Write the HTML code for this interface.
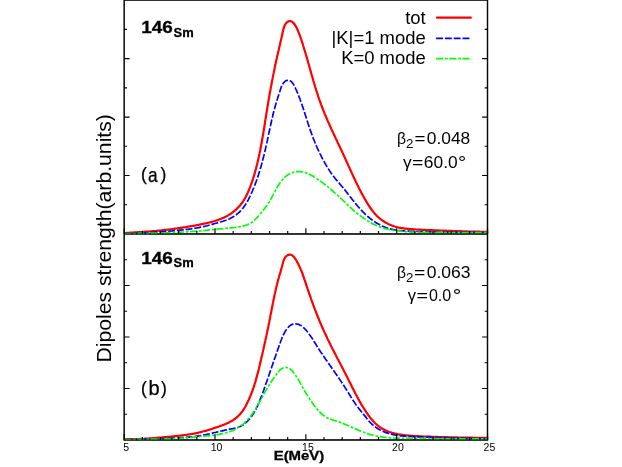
<!DOCTYPE html>
<html><head><meta charset="utf-8"><title>plot</title>
<style>
html,body{margin:0;padding:0;background:#fff;}
body{width:622px;height:467px;overflow:hidden;}
svg{display:block;will-change:transform;}
text{font-family:"Liberation Sans",sans-serif;fill:#000;}
</style></head>
<body>
<svg width="622" height="467" viewBox="0 0 622 467">
<rect x="0" y="0" width="622" height="467" fill="#ffffff"/>
<!-- frame + ticks -->
<g fill="none" stroke="#151515" stroke-width="1.35">
<path d="M124.2,0.15 H487.5 V439.95 H124.2 Z M124.2,233.95 H487.5"/>
</g>
<!-- curves -->
<g fill="none" stroke-linejoin="round">
<path d="M124.2,233.1 L125.4,233.0 L126.7,232.9 L127.9,232.8 L129.2,232.8 L130.4,232.7 L131.6,232.6 L132.9,232.5 L134.1,232.4 L135.4,232.4 L136.6,232.3 L137.9,232.2 L139.1,232.1 L140.3,232.1 L141.6,232.0 L142.8,231.9 L144.0,231.8 L145.3,231.7 L146.5,231.7 L147.8,231.6 L149.0,231.5 L150.2,231.4 L151.5,231.3 L152.7,231.2 L154.0,231.1 L155.2,231.0 L156.4,230.9 L157.7,230.7 L158.9,230.6 L160.2,230.5 L161.4,230.4 L162.6,230.2 L163.9,230.1 L165.1,229.9 L166.3,229.8 L167.6,229.7 L168.8,229.5 L170.1,229.3 L171.3,229.2 L172.5,229.0 L173.8,228.9 L175.0,228.7 L176.2,228.5 L177.4,228.4 L178.7,228.2 L179.9,228.0 L181.1,227.8 L182.4,227.6 L183.6,227.4 L184.8,227.3 L186.0,227.1 L187.3,226.9 L188.5,226.7 L189.7,226.4 L190.9,226.2 L192.2,226.0 L193.4,225.8 L194.6,225.6 L195.8,225.3 L197.0,225.1 L198.3,224.9 L199.5,224.6 L200.7,224.4 L201.9,224.1 L203.1,223.9 L204.4,223.6 L205.6,223.3 L206.8,223.1 L208.0,222.8 L209.2,222.5 L210.4,222.2 L211.7,221.9 L212.9,221.5 L214.1,221.2 L215.2,220.8 L216.4,220.5 L217.6,220.1 L218.8,219.7 L219.9,219.2 L221.1,218.8 L222.2,218.3 L223.4,217.8 L224.5,217.3 L225.6,216.7 L226.7,216.2 L227.8,215.6 L228.8,214.9 L229.9,214.3 L230.9,213.6 L231.9,212.9 L232.9,212.1 L233.9,211.4 L234.9,210.6 L235.8,209.7 L236.7,208.9 L237.6,208.0 L238.5,207.1 L239.3,206.2 L240.2,205.2 L240.9,204.3 L241.7,203.3 L242.4,202.3 L243.1,201.3 L243.8,200.2 L244.4,199.2 L245.1,198.1 L245.7,197.0 L246.2,195.9 L246.8,194.8 L247.3,193.7 L247.8,192.6 L248.3,191.4 L248.8,190.3 L249.3,189.1 L249.8,187.9 L250.2,186.8 L250.6,185.6 L251.1,184.4 L251.5,183.2 L251.9,182.1 L252.3,180.9 L252.7,179.7 L253.1,178.5 L253.4,177.3 L253.8,176.1 L254.2,174.9 L254.5,173.8 L254.9,172.6 L255.2,171.4 L255.5,170.2 L255.9,169.0 L256.2,167.8 L256.5,166.6 L256.8,165.4 L257.1,164.2 L257.4,163.0 L257.7,161.8 L258.0,160.6 L258.2,159.4 L258.5,158.2 L258.8,157.0 L259.0,155.7 L259.3,154.5 L259.6,153.3 L259.8,152.1 L260.1,150.9 L260.3,149.7 L260.5,148.5 L260.8,147.3 L261.0,146.0 L261.2,144.8 L261.5,143.6 L261.7,142.4 L261.9,141.2 L262.1,139.9 L262.3,138.7 L262.5,137.5 L262.8,136.3 L263.0,135.1 L263.2,133.8 L263.4,132.6 L263.6,131.4 L263.8,130.2 L264.0,128.9 L264.2,127.7 L264.4,126.5 L264.6,125.2 L264.8,124.0 L264.9,122.8 L265.1,121.5 L265.3,120.3 L265.5,119.1 L265.7,117.9 L265.9,116.6 L266.1,115.4 L266.3,114.2 L266.5,112.9 L266.7,111.7 L266.9,110.5 L267.1,109.2 L267.3,108.0 L267.5,106.7 L267.7,105.5 L267.9,104.3 L268.1,103.0 L268.3,101.8 L268.5,100.6 L268.7,99.3 L269.0,98.1 L269.2,96.9 L269.4,95.6 L269.6,94.4 L269.8,93.2 L270.0,91.9 L270.3,90.7 L270.5,89.5 L270.7,88.2 L270.9,87.0 L271.2,85.8 L271.4,84.6 L271.6,83.3 L271.9,82.1 L272.1,80.9 L272.3,79.7 L272.6,78.4 L272.8,77.2 L273.0,76.0 L273.3,74.8 L273.5,73.6 L273.8,72.4 L274.0,71.2 L274.3,69.9 L274.5,68.7 L274.8,67.5 L275.0,66.3 L275.3,65.1 L275.5,63.9 L275.8,62.7 L276.1,61.6 L276.3,60.4 L276.6,59.2 L276.9,58.0 L277.1,56.8 L277.4,55.6 L277.7,54.4 L277.9,53.3 L278.2,52.1 L278.5,50.9 L278.8,49.7 L279.0,48.5 L279.3,47.3 L279.6,46.1 L279.9,44.9 L280.1,43.7 L280.4,42.4 L280.7,41.2 L281.0,40.0 L281.3,38.7 L281.6,37.4 L281.8,36.2 L282.1,34.9 L282.4,33.6 L282.7,32.3 L283.0,30.9 L283.3,29.6 L283.6,28.4 L284.0,27.1 L284.5,25.9 L285.0,24.8 L285.6,23.8 L286.4,22.9 L287.2,22.1 L288.2,21.5 L289.3,21.1 L290.4,21.1 L291.6,21.5 L292.6,22.2 L293.5,23.1 L294.3,24.0 L295.1,25.1 L295.8,26.3 L296.4,27.4 L297.0,28.6 L297.5,29.8 L298.1,31.0 L298.5,32.1 L299.0,33.3 L299.4,34.5 L299.9,35.6 L300.3,36.8 L300.7,37.9 L301.1,39.1 L301.5,40.2 L301.8,41.4 L302.2,42.5 L302.6,43.7 L303.0,44.9 L303.3,46.0 L303.7,47.2 L304.0,48.4 L304.4,49.6 L304.8,50.7 L305.1,51.9 L305.5,53.1 L305.8,54.3 L306.2,55.5 L306.5,56.7 L306.9,57.9 L307.2,59.0 L307.5,60.2 L307.9,61.4 L308.2,62.6 L308.6,63.8 L308.9,65.0 L309.2,66.2 L309.6,67.4 L309.9,68.6 L310.2,69.8 L310.6,71.0 L310.9,72.2 L311.3,73.4 L311.6,74.6 L312.0,75.8 L312.3,77.0 L312.6,78.2 L313.0,79.4 L313.3,80.6 L313.7,81.8 L314.0,83.0 L314.4,84.2 L314.8,85.4 L315.1,86.6 L315.5,87.8 L315.9,88.9 L316.2,90.1 L316.6,91.3 L317.0,92.5 L317.4,93.7 L317.8,94.9 L318.1,96.1 L318.5,97.3 L318.9,98.4 L319.3,99.6 L319.8,100.8 L320.2,102.0 L320.6,103.1 L321.0,104.3 L321.5,105.5 L321.9,106.6 L322.3,107.8 L322.8,108.9 L323.2,110.1 L323.7,111.3 L324.2,112.4 L324.6,113.6 L325.1,114.7 L325.6,115.8 L326.1,117.0 L326.6,118.1 L327.1,119.3 L327.5,120.4 L328.0,121.5 L328.5,122.7 L329.1,123.8 L329.6,125.0 L330.1,126.1 L330.6,127.2 L331.1,128.3 L331.6,129.5 L332.1,130.6 L332.7,131.7 L333.2,132.9 L333.7,134.0 L334.2,135.1 L334.8,136.2 L335.3,137.4 L335.8,138.5 L336.4,139.6 L336.9,140.7 L337.4,141.9 L337.9,143.0 L338.5,144.1 L339.0,145.2 L339.5,146.4 L340.1,147.5 L340.6,148.6 L341.1,149.7 L341.7,150.9 L342.2,152.0 L342.7,153.1 L343.2,154.2 L343.7,155.4 L344.3,156.5 L344.8,157.6 L345.3,158.8 L345.8,159.9 L346.3,161.0 L346.8,162.2 L347.4,163.3 L347.9,164.4 L348.4,165.6 L348.9,166.7 L349.4,167.8 L349.9,169.0 L350.4,170.1 L351.0,171.2 L351.5,172.4 L352.0,173.5 L352.5,174.6 L353.0,175.7 L353.6,176.9 L354.1,178.0 L354.6,179.1 L355.2,180.2 L355.7,181.4 L356.2,182.5 L356.8,183.6 L357.3,184.7 L357.9,185.8 L358.4,186.9 L359.0,188.1 L359.5,189.2 L360.1,190.3 L360.7,191.4 L361.3,192.5 L361.8,193.6 L362.4,194.7 L363.0,195.8 L363.6,196.8 L364.2,197.9 L364.8,199.0 L365.5,200.1 L366.1,201.2 L366.7,202.2 L367.4,203.3 L368.0,204.4 L368.7,205.4 L369.4,206.5 L370.1,207.5 L370.8,208.5 L371.5,209.5 L372.2,210.5 L373.0,211.5 L373.8,212.4 L374.6,213.4 L375.4,214.3 L376.3,215.2 L377.1,216.1 L378.0,216.9 L379.0,217.8 L379.9,218.6 L380.9,219.3 L381.9,220.1 L382.9,220.8 L384.0,221.5 L385.0,222.2 L386.1,222.8 L387.2,223.4 L388.3,224.0 L389.4,224.5 L390.6,225.0 L391.7,225.5 L392.9,225.9 L394.0,226.3 L395.2,226.7 L396.4,227.0 L397.6,227.3 L398.8,227.6 L400.1,227.8 L401.3,228.0 L402.5,228.2 L403.7,228.4 L405.0,228.6 L406.2,228.7 L407.4,228.8 L408.7,228.9 L409.9,229.0 L411.2,229.1 L412.4,229.2 L413.6,229.3 L414.9,229.4 L416.1,229.5 L417.4,229.5 L418.6,229.6 L419.9,229.7 L421.1,229.7 L422.3,229.8 L423.6,229.9 L424.8,229.9 L426.1,230.0 L427.3,230.0 L428.5,230.1 L429.8,230.1 L431.0,230.2 L432.3,230.2 L433.5,230.3 L434.8,230.3 L436.0,230.4 L437.2,230.4 L438.5,230.4 L439.7,230.5 L441.0,230.5 L442.2,230.6 L443.5,230.6 L444.7,230.7 L445.9,230.7 L447.2,230.8 L448.4,230.8 L449.7,230.9 L450.9,230.9 L452.2,230.9 L453.4,231.0 L454.6,231.0 L455.9,231.1 L457.1,231.1 L458.4,231.1 L459.6,231.2 L460.9,231.2 L462.1,231.3 L463.3,231.3 L464.6,231.3 L465.8,231.4 L467.1,231.4 L468.3,231.5 L469.6,231.5 L470.8,231.5 L472.0,231.6 L473.3,231.6 L474.5,231.6 L475.8,231.6 L477.0,231.7 L478.3,231.7 L479.5,231.7 L480.7,231.8 L482.0,231.8 L483.2,231.8 L484.5,231.8 L485.7,231.8 L487.0,231.9 L488.2,231.9" stroke="#ff0000" stroke-width="2.2"/>
<path d="M124.2,233.4 L125.3,233.4 L126.3,233.4 L127.4,233.4 L128.4,233.3 L129.5,233.3 L130.5,233.3 L131.6,233.3 L132.6,233.2 L133.7,233.2 L134.7,233.2 L135.8,233.1 L136.8,233.1 L137.9,233.1 L138.9,233.0 L140.0,233.0 L141.0,232.9 L142.1,232.9 L143.2,232.9 L144.2,232.8 L145.3,232.8 L146.3,232.7 L147.4,232.7 L148.4,232.6 L149.5,232.5 L150.5,232.5 L151.6,232.4 L152.6,232.4 L153.7,232.3 L154.7,232.2 L155.8,232.2 L156.8,232.1 L157.9,232.0 L158.9,232.0 L160.0,231.9 L161.0,231.8 L162.1,231.7 L163.1,231.7 L164.2,231.6 L165.2,231.5 L166.3,231.4 L167.3,231.3 L168.4,231.3 L169.4,231.2 L170.5,231.1 L171.5,231.0 L172.6,230.9 L173.6,230.8 L174.7,230.7 L175.7,230.6 L176.8,230.5 L177.8,230.4 L178.9,230.3 L179.9,230.2 L181.0,230.1 L182.0,230.0 L183.1,229.9 L184.1,229.8 L185.2,229.6 L186.2,229.5 L187.2,229.4 L188.3,229.3 L189.3,229.1 L190.4,229.0 L191.4,228.8 L192.5,228.7 L193.5,228.5 L194.5,228.4 L195.6,228.2 L196.6,228.0 L197.7,227.8 L198.7,227.6 L199.7,227.4 L200.7,227.2 L201.8,227.0 L202.8,226.8 L203.8,226.5 L204.9,226.3 L205.9,226.0 L206.9,225.8 L207.9,225.5 L208.9,225.2 L210.0,224.9 L211.0,224.6 L212.0,224.4 L213.0,224.1 L214.0,223.8 L215.0,223.5 L216.0,223.2 L217.1,222.9 L218.1,222.6 L219.1,222.3 L220.1,222.0 L221.1,221.8 L222.1,221.5 L223.1,221.2 L224.1,220.8 L225.1,220.5 L226.1,220.2 L227.1,219.8 L228.1,219.4 L229.0,219.0 L230.0,218.5 L230.9,218.1 L231.9,217.6 L232.8,217.0 L233.7,216.5 L234.6,215.9 L235.4,215.3 L236.3,214.7 L237.1,214.0 L237.9,213.4 L238.7,212.7 L239.5,212.0 L240.3,211.2 L241.0,210.5 L241.7,209.7 L242.4,208.9 L243.0,208.1 L243.6,207.2 L244.3,206.4 L244.9,205.5 L245.4,204.6 L246.0,203.7 L246.5,202.8 L247.1,201.9 L247.6,201.0 L248.1,200.1 L248.6,199.1 L249.1,198.2 L249.5,197.2 L250.0,196.3 L250.4,195.3 L250.9,194.4 L251.3,193.4 L251.8,192.4 L252.2,191.5 L252.6,190.5 L253.0,189.5 L253.4,188.5 L253.8,187.6 L254.2,186.6 L254.6,185.6 L255.0,184.6 L255.4,183.7 L255.7,182.7 L256.1,181.7 L256.4,180.7 L256.8,179.7 L257.1,178.7 L257.5,177.7 L257.8,176.7 L258.1,175.7 L258.5,174.7 L258.8,173.7 L259.1,172.7 L259.4,171.7 L259.7,170.7 L260.0,169.7 L260.3,168.7 L260.6,167.7 L260.9,166.7 L261.2,165.7 L261.5,164.7 L261.8,163.7 L262.0,162.7 L262.3,161.6 L262.6,160.6 L262.8,159.6 L263.1,158.6 L263.4,157.6 L263.6,156.6 L263.9,155.5 L264.1,154.5 L264.4,153.5 L264.6,152.5 L264.9,151.4 L265.1,150.4 L265.3,149.4 L265.6,148.4 L265.8,147.3 L266.0,146.3 L266.3,145.3 L266.5,144.2 L266.7,143.2 L267.0,142.2 L267.2,141.1 L267.4,140.1 L267.6,139.1 L267.8,138.0 L268.1,137.0 L268.3,136.0 L268.5,134.9 L268.7,133.9 L268.9,132.9 L269.2,131.8 L269.4,130.8 L269.6,129.8 L269.8,128.7 L270.1,127.7 L270.3,126.7 L270.5,125.6 L270.7,124.6 L271.0,123.6 L271.2,122.5 L271.4,121.5 L271.6,120.5 L271.9,119.5 L272.1,118.4 L272.4,117.4 L272.6,116.4 L272.8,115.4 L273.1,114.3 L273.3,113.3 L273.6,112.3 L273.9,111.3 L274.1,110.3 L274.4,109.3 L274.7,108.2 L274.9,107.2 L275.2,106.2 L275.5,105.2 L275.8,104.2 L276.1,103.2 L276.4,102.2 L276.7,101.2 L277.0,100.2 L277.3,99.2 L277.6,98.3 L277.9,97.3 L278.2,96.3 L278.6,95.3 L278.9,94.3 L279.2,93.3 L279.5,92.2 L279.9,91.2 L280.2,90.2 L280.5,89.2 L280.9,88.1 L281.2,87.1 L281.6,86.1 L282.1,85.1 L282.6,84.2 L283.2,83.3 L283.9,82.5 L284.6,81.7 L285.5,81.1 L286.4,80.6 L287.4,80.3 L288.4,80.2 L289.4,80.4 L290.3,80.9 L291.2,81.5 L291.9,82.2 L292.6,83.0 L293.2,83.9 L293.8,84.8 L294.3,85.8 L294.8,86.8 L295.3,87.8 L295.7,88.8 L296.2,89.8 L296.6,90.7 L297.0,91.7 L297.4,92.7 L297.9,93.7 L298.2,94.7 L298.6,95.6 L299.0,96.6 L299.4,97.6 L299.8,98.6 L300.1,99.5 L300.5,100.5 L300.8,101.5 L301.2,102.5 L301.5,103.4 L301.9,104.4 L302.2,105.4 L302.5,106.4 L302.9,107.4 L303.2,108.3 L303.5,109.3 L303.8,110.3 L304.2,111.3 L304.5,112.3 L304.8,113.3 L305.1,114.3 L305.4,115.3 L305.8,116.3 L306.1,117.3 L306.4,118.3 L306.7,119.3 L307.1,120.3 L307.4,121.3 L307.7,122.3 L308.0,123.3 L308.4,124.4 L308.7,125.4 L309.0,126.4 L309.4,127.4 L309.7,128.4 L310.1,129.4 L310.4,130.4 L310.7,131.4 L311.1,132.4 L311.5,133.4 L311.8,134.4 L312.2,135.4 L312.5,136.4 L312.9,137.4 L313.3,138.4 L313.7,139.3 L314.1,140.3 L314.5,141.3 L314.9,142.3 L315.3,143.2 L315.7,144.2 L316.1,145.2 L316.5,146.1 L316.9,147.1 L317.3,148.1 L317.8,149.0 L318.2,150.0 L318.7,150.9 L319.1,151.9 L319.6,152.8 L320.0,153.8 L320.5,154.7 L321.0,155.7 L321.4,156.6 L321.9,157.5 L322.4,158.5 L322.9,159.4 L323.4,160.3 L323.9,161.2 L324.4,162.1 L324.9,163.1 L325.4,164.0 L325.9,164.9 L326.5,165.8 L327.0,166.7 L327.6,167.6 L328.1,168.5 L328.7,169.4 L329.3,170.3 L329.8,171.1 L330.4,172.0 L331.0,172.9 L331.6,173.7 L332.2,174.6 L332.9,175.5 L333.5,176.3 L334.1,177.1 L334.8,178.0 L335.4,178.8 L336.1,179.6 L336.8,180.4 L337.5,181.2 L338.2,182.0 L338.9,182.8 L339.5,183.6 L340.2,184.4 L340.9,185.2 L341.6,186.0 L342.3,186.8 L343.0,187.6 L343.6,188.5 L344.3,189.3 L345.0,190.1 L345.6,190.9 L346.3,191.7 L346.9,192.6 L347.6,193.4 L348.2,194.2 L348.9,195.0 L349.5,195.9 L350.1,196.7 L350.8,197.5 L351.4,198.4 L352.1,199.2 L352.7,200.0 L353.4,200.8 L354.0,201.6 L354.7,202.5 L355.3,203.3 L356.0,204.1 L356.7,204.9 L357.3,205.7 L358.0,206.5 L358.7,207.3 L359.4,208.1 L360.1,208.9 L360.8,209.6 L361.5,210.4 L362.2,211.2 L363.0,211.9 L363.7,212.7 L364.5,213.4 L365.2,214.2 L366.0,214.9 L366.8,215.6 L367.6,216.3 L368.4,217.0 L369.2,217.7 L370.0,218.4 L370.8,219.0 L371.7,219.7 L372.5,220.3 L373.4,221.0 L374.3,221.6 L375.2,222.1 L376.1,222.7 L377.0,223.3 L377.9,223.8 L378.8,224.3 L379.7,224.8 L380.6,225.3 L381.6,225.8 L382.5,226.2 L383.5,226.6 L384.5,227.0 L385.4,227.4 L386.4,227.8 L387.4,228.1 L388.4,228.4 L389.4,228.7 L390.4,228.9 L391.4,229.2 L392.4,229.4 L393.5,229.6 L394.5,229.8 L395.5,230.0 L396.6,230.1 L397.6,230.3 L398.7,230.4 L399.7,230.5 L400.8,230.6 L401.8,230.7 L402.9,230.8 L403.9,230.9 L405.0,231.0 L406.0,231.0 L407.1,231.1 L408.2,231.2 L409.2,231.2 L410.3,231.3 L411.3,231.3 L412.4,231.3 L413.5,231.4 L414.5,231.4 L415.6,231.5 L416.6,231.5 L417.7,231.5 L418.7,231.6 L419.8,231.6 L420.8,231.6 L421.9,231.6 L422.9,231.7 L424.0,231.7 L425.0,231.7 L426.1,231.7 L427.1,231.8 L428.2,231.8 L429.2,231.8 L430.3,231.8 L431.3,231.8 L432.4,231.9 L433.4,231.9 L434.5,231.9 L435.5,231.9 L436.6,231.9 L437.6,232.0 L438.7,232.0 L439.7,232.0 L440.8,232.0 L441.8,232.0 L442.9,232.0 L443.9,232.1 L445.0,232.1 L446.1,232.1 L447.1,232.1 L448.2,232.1 L449.2,232.1 L450.3,232.2 L451.3,232.2 L452.4,232.2 L453.4,232.2 L454.5,232.2 L455.5,232.2 L456.6,232.2 L457.6,232.3 L458.7,232.3 L459.8,232.3 L460.8,232.3 L461.9,232.3 L462.9,232.3 L464.0,232.3 L465.0,232.4 L466.1,232.4 L467.1,232.4 L468.2,232.4 L469.3,232.4 L470.3,232.4 L471.4,232.4 L472.4,232.4 L473.5,232.4 L474.5,232.4 L475.6,232.4 L476.6,232.5 L477.7,232.5 L478.7,232.5 L479.8,232.5 L480.8,232.5 L481.9,232.5 L482.9,232.5 L484.0,232.5 L485.0,232.5 L486.1,232.5 L487.1,232.5 L488.2,232.5" stroke="#0000ff" stroke-width="1.7" stroke-dasharray="6.9 1.9"/>
<path d="M124.2,233.5 L125.0,233.5 L125.8,233.5 L126.6,233.5 L127.4,233.5 L128.1,233.5 L128.9,233.5 L129.7,233.5 L130.5,233.5 L131.3,233.5 L132.1,233.5 L132.9,233.5 L133.7,233.5 L134.4,233.5 L135.2,233.5 L136.0,233.4 L136.8,233.4 L137.6,233.4 L138.4,233.4 L139.2,233.4 L140.0,233.4 L140.7,233.4 L141.5,233.4 L142.3,233.4 L143.1,233.4 L143.9,233.3 L144.7,233.3 L145.5,233.3 L146.3,233.3 L147.1,233.3 L147.8,233.3 L148.6,233.3 L149.4,233.2 L150.2,233.2 L151.0,233.2 L151.8,233.2 L152.6,233.2 L153.4,233.1 L154.1,233.1 L154.9,233.1 L155.7,233.1 L156.5,233.1 L157.3,233.0 L158.1,233.0 L158.9,233.0 L159.7,233.0 L160.4,232.9 L161.2,232.9 L162.0,232.9 L162.8,232.9 L163.6,232.8 L164.4,232.8 L165.2,232.8 L166.0,232.8 L166.7,232.7 L167.5,232.7 L168.3,232.7 L169.1,232.6 L169.9,232.6 L170.7,232.6 L171.5,232.5 L172.3,232.5 L173.0,232.5 L173.8,232.4 L174.6,232.4 L175.4,232.4 L176.2,232.3 L177.0,232.3 L177.8,232.3 L178.6,232.2 L179.3,232.2 L180.1,232.2 L180.9,232.1 L181.7,232.1 L182.5,232.0 L183.3,232.0 L184.1,232.0 L184.9,231.9 L185.6,231.9 L186.4,231.8 L187.2,231.8 L188.0,231.7 L188.8,231.7 L189.6,231.6 L190.4,231.6 L191.1,231.5 L191.9,231.5 L192.7,231.4 L193.5,231.4 L194.3,231.3 L195.1,231.3 L195.9,231.2 L196.6,231.2 L197.4,231.1 L198.2,231.0 L199.0,231.0 L199.8,230.9 L200.6,230.8 L201.4,230.8 L202.1,230.7 L202.9,230.6 L203.7,230.6 L204.5,230.5 L205.3,230.4 L206.1,230.3 L206.9,230.3 L207.6,230.2 L208.4,230.1 L209.2,230.0 L210.0,229.9 L210.8,229.9 L211.6,229.8 L212.3,229.7 L213.1,229.6 L213.9,229.5 L214.7,229.4 L215.5,229.4 L216.3,229.3 L217.0,229.2 L217.8,229.1 L218.6,229.0 L219.4,228.9 L220.2,228.9 L221.0,228.8 L221.7,228.7 L222.5,228.6 L223.3,228.5 L224.1,228.5 L224.9,228.4 L225.7,228.3 L226.5,228.2 L227.2,228.2 L228.0,228.1 L228.8,228.0 L229.6,228.0 L230.4,227.9 L231.2,227.8 L231.9,227.8 L232.7,227.7 L233.5,227.6 L234.3,227.5 L235.1,227.5 L235.9,227.4 L236.6,227.3 L237.4,227.2 L238.2,227.0 L239.0,226.9 L239.8,226.8 L240.5,226.6 L241.3,226.5 L242.1,226.3 L242.9,226.1 L243.6,225.9 L244.4,225.7 L245.1,225.5 L245.9,225.3 L246.6,225.0 L247.4,224.7 L248.1,224.4 L248.8,224.1 L249.5,223.8 L250.2,223.4 L250.8,223.0 L251.5,222.6 L252.1,222.1 L252.8,221.7 L253.4,221.2 L254.0,220.7 L254.6,220.1 L255.1,219.6 L255.7,219.0 L256.2,218.5 L256.8,217.9 L257.3,217.3 L257.9,216.7 L258.4,216.1 L258.9,215.5 L259.4,214.8 L259.9,214.2 L260.4,213.6 L261.0,213.0 L261.5,212.4 L262.0,211.8 L262.5,211.2 L263.0,210.6 L263.5,210.0 L264.0,209.3 L264.4,208.7 L264.9,208.1 L265.4,207.5 L265.9,206.9 L266.3,206.2 L266.8,205.6 L267.2,205.0 L267.7,204.3 L268.1,203.7 L268.5,203.0 L268.9,202.4 L269.4,201.7 L269.8,201.0 L270.1,200.4 L270.5,199.7 L270.9,199.0 L271.3,198.3 L271.7,197.6 L272.0,196.9 L272.4,196.2 L272.8,195.5 L273.1,194.8 L273.5,194.1 L273.9,193.4 L274.2,192.7 L274.6,192.0 L275.0,191.3 L275.3,190.6 L275.7,189.9 L276.1,189.2 L276.5,188.5 L276.8,187.8 L277.2,187.2 L277.6,186.5 L278.1,185.8 L278.5,185.1 L278.9,184.5 L279.3,183.8 L279.8,183.2 L280.2,182.5 L280.7,181.9 L281.2,181.2 L281.7,180.6 L282.2,180.0 L282.7,179.4 L283.3,178.8 L283.8,178.3 L284.4,177.7 L284.9,177.2 L285.5,176.6 L286.1,176.1 L286.8,175.6 L287.4,175.2 L288.0,174.8 L288.7,174.3 L289.4,174.0 L290.1,173.6 L290.8,173.3 L291.5,173.0 L292.3,172.7 L293.0,172.4 L293.8,172.2 L294.5,172.0 L295.3,171.9 L296.1,171.7 L296.9,171.7 L297.7,171.6 L298.4,171.6 L299.2,171.6 L300.0,171.6 L300.8,171.7 L301.6,171.8 L302.4,171.9 L303.1,172.1 L303.9,172.2 L304.7,172.4 L305.4,172.7 L306.2,172.9 L306.9,173.2 L307.7,173.5 L308.4,173.8 L309.1,174.1 L309.8,174.4 L310.5,174.8 L311.2,175.2 L311.9,175.5 L312.6,175.9 L313.3,176.3 L313.9,176.7 L314.6,177.1 L315.3,177.6 L315.9,178.0 L316.6,178.4 L317.2,178.9 L317.9,179.3 L318.5,179.8 L319.2,180.3 L319.8,180.7 L320.4,181.2 L321.1,181.7 L321.7,182.1 L322.3,182.6 L323.0,183.1 L323.6,183.6 L324.2,184.0 L324.8,184.5 L325.5,185.0 L326.1,185.5 L326.7,185.9 L327.3,186.4 L327.9,186.9 L328.6,187.4 L329.2,187.9 L329.8,188.4 L330.4,188.9 L331.0,189.4 L331.5,190.0 L332.1,190.5 L332.7,191.0 L333.3,191.5 L333.9,192.1 L334.5,192.6 L335.1,193.1 L335.6,193.6 L336.2,194.1 L336.8,194.7 L337.4,195.2 L338.0,195.7 L338.6,196.2 L339.1,196.8 L339.7,197.3 L340.3,197.8 L340.9,198.4 L341.4,198.9 L342.0,199.4 L342.6,200.0 L343.1,200.5 L343.7,201.1 L344.3,201.6 L344.8,202.2 L345.4,202.7 L345.9,203.3 L346.5,203.8 L347.1,204.4 L347.6,204.9 L348.2,205.5 L348.8,206.0 L349.3,206.6 L349.9,207.1 L350.5,207.6 L351.1,208.2 L351.6,208.7 L352.2,209.2 L352.8,209.7 L353.4,210.3 L354.0,210.8 L354.6,211.3 L355.2,211.8 L355.8,212.3 L356.4,212.8 L357.1,213.3 L357.7,213.8 L358.3,214.2 L358.9,214.7 L359.5,215.2 L360.2,215.7 L360.8,216.1 L361.4,216.6 L362.1,217.1 L362.7,217.5 L363.4,218.0 L364.0,218.4 L364.7,218.9 L365.3,219.3 L366.0,219.8 L366.6,220.2 L367.3,220.6 L368.0,221.0 L368.7,221.4 L369.3,221.8 L370.0,222.2 L370.7,222.6 L371.4,223.0 L372.1,223.4 L372.8,223.7 L373.5,224.1 L374.2,224.4 L374.9,224.8 L375.6,225.1 L376.3,225.4 L377.1,225.7 L377.8,226.1 L378.5,226.3 L379.3,226.6 L380.0,226.9 L380.7,227.2 L381.5,227.4 L382.2,227.7 L383.0,227.9 L383.7,228.1 L384.5,228.4 L385.2,228.6 L386.0,228.8 L386.8,229.0 L387.5,229.2 L388.3,229.3 L389.1,229.5 L389.8,229.6 L390.6,229.8 L391.4,229.9 L392.2,230.0 L393.0,230.2 L393.7,230.3 L394.5,230.4 L395.3,230.5 L396.1,230.6 L396.9,230.7 L397.7,230.8 L398.4,230.8 L399.2,230.9 L400.0,231.0 L400.8,231.1 L401.6,231.2 L402.3,231.4 L403.1,231.5 L403.9,231.6 L404.7,231.6 L405.5,231.7 L406.3,231.8 L407.0,231.9 L407.8,231.9 L408.6,232.0 L409.4,232.0 L410.2,232.0 L411.0,232.1 L411.8,232.1 L412.5,232.1 L413.3,232.1 L414.1,232.1 L414.9,232.2 L415.7,232.2 L416.5,232.2 L417.3,232.2 L418.1,232.2 L418.9,232.2 L419.6,232.2 L420.4,232.2 L421.2,232.2 L422.0,232.2 L422.8,232.3 L423.6,232.3 L424.4,232.3 L425.2,232.3 L425.9,232.3 L426.7,232.3 L427.5,232.3 L428.3,232.3 L429.1,232.3 L429.9,232.3 L430.7,232.3 L431.5,232.3 L432.2,232.3 L433.0,232.4 L433.8,232.4 L434.6,232.4 L435.4,232.4 L436.2,232.4 L437.0,232.4 L437.8,232.4 L438.6,232.4 L439.3,232.4 L440.1,232.4 L440.9,232.4 L441.7,232.4 L442.5,232.4 L443.3,232.4 L444.1,232.4 L444.9,232.5 L445.6,232.5 L446.4,232.5 L447.2,232.5 L448.0,232.5 L448.8,232.5 L449.6,232.5 L450.4,232.5 L451.2,232.5 L452.0,232.5 L452.7,232.5 L453.5,232.5 L454.3,232.5 L455.1,232.6 L455.9,232.6 L456.7,232.6 L457.5,232.6 L458.3,232.6 L459.0,232.6 L459.8,232.6 L460.6,232.6 L461.4,232.6 L462.2,232.6 L463.0,232.6 L463.8,232.6 L464.6,232.6 L465.3,232.6 L466.1,232.6 L466.9,232.6 L467.7,232.6 L468.5,232.7 L469.3,232.7 L470.1,232.7 L470.9,232.7 L471.7,232.7 L472.4,232.7 L473.2,232.7 L474.0,232.7 L474.8,232.7 L475.6,232.7 L476.4,232.7 L477.2,232.7 L478.0,232.7 L478.7,232.7 L479.5,232.7 L480.3,232.7 L481.1,232.7 L481.9,232.7 L482.7,232.7 L483.5,232.7 L484.3,232.7 L485.0,232.7 L485.8,232.7 L486.6,232.7 L487.4,232.7 L488.2,232.7" stroke="#00ff00" stroke-width="1.7" stroke-dasharray="7 1.9 2.7 1.6"/>
<path d="M124.2,439.3 L125.3,439.3 L126.5,439.3 L127.7,439.3 L128.8,439.3 L130.0,439.2 L131.1,439.2 L132.3,439.2 L133.4,439.2 L134.6,439.1 L135.7,439.1 L136.9,439.1 L138.0,439.0 L139.2,439.0 L140.3,438.9 L141.5,438.9 L142.6,438.8 L143.8,438.8 L144.9,438.7 L146.0,438.6 L147.2,438.6 L148.3,438.5 L149.5,438.4 L150.6,438.3 L151.8,438.3 L152.9,438.2 L154.1,438.1 L155.2,438.0 L156.4,437.9 L157.5,437.8 L158.7,437.7 L159.8,437.6 L161.0,437.5 L162.1,437.4 L163.2,437.3 L164.4,437.2 L165.5,437.1 L166.7,437.0 L167.8,436.9 L169.0,436.8 L170.1,436.7 L171.3,436.5 L172.4,436.4 L173.6,436.3 L174.7,436.2 L175.8,436.1 L177.0,435.9 L178.1,435.8 L179.3,435.7 L180.4,435.5 L181.6,435.4 L182.7,435.3 L183.8,435.1 L185.0,435.0 L186.1,434.8 L187.3,434.7 L188.4,434.5 L189.5,434.3 L190.7,434.2 L191.8,434.0 L192.9,433.8 L194.1,433.6 L195.2,433.3 L196.3,433.1 L197.5,432.9 L198.6,432.6 L199.7,432.4 L200.8,432.1 L201.9,431.8 L203.0,431.5 L204.1,431.2 L205.3,430.9 L206.4,430.6 L207.5,430.2 L208.6,429.9 L209.7,429.6 L210.8,429.2 L211.9,428.9 L213.0,428.5 L214.0,428.1 L215.1,427.8 L216.2,427.4 L217.3,427.1 L218.4,426.7 L219.5,426.3 L220.6,425.9 L221.7,425.5 L222.7,425.1 L223.8,424.7 L224.9,424.3 L225.9,423.8 L227.0,423.4 L228.0,422.9 L229.1,422.4 L230.1,421.8 L231.1,421.3 L232.1,420.7 L233.1,420.1 L234.0,419.4 L235.0,418.8 L235.9,418.1 L236.8,417.4 L237.6,416.6 L238.5,415.8 L239.3,415.0 L240.0,414.2 L240.8,413.3 L241.5,412.4 L242.2,411.5 L242.9,410.6 L243.5,409.6 L244.1,408.7 L244.7,407.7 L245.3,406.7 L245.9,405.6 L246.4,404.6 L246.9,403.6 L247.4,402.5 L247.9,401.5 L248.4,400.4 L248.9,399.4 L249.4,398.3 L249.8,397.3 L250.3,396.2 L250.7,395.1 L251.1,394.0 L251.6,393.0 L252.0,391.9 L252.4,390.8 L252.8,389.7 L253.1,388.6 L253.5,387.6 L253.9,386.5 L254.2,385.4 L254.6,384.3 L254.9,383.2 L255.3,382.1 L255.6,381.0 L255.9,379.9 L256.2,378.8 L256.5,377.7 L256.8,376.6 L257.1,375.5 L257.4,374.3 L257.7,373.2 L258.0,372.1 L258.3,371.0 L258.6,369.9 L258.9,368.8 L259.1,367.7 L259.4,366.6 L259.7,365.4 L259.9,364.3 L260.2,363.2 L260.5,362.1 L260.7,361.0 L261.0,359.8 L261.2,358.7 L261.5,357.6 L261.7,356.5 L262.0,355.4 L262.3,354.3 L262.5,353.1 L262.8,352.0 L263.0,350.9 L263.3,349.8 L263.5,348.7 L263.8,347.6 L264.0,346.4 L264.3,345.3 L264.5,344.2 L264.8,343.1 L265.0,342.0 L265.3,340.8 L265.5,339.7 L265.7,338.6 L266.0,337.5 L266.2,336.4 L266.5,335.2 L266.7,334.1 L267.0,333.0 L267.2,331.9 L267.4,330.7 L267.7,329.6 L267.9,328.5 L268.1,327.4 L268.4,326.2 L268.6,325.1 L268.8,324.0 L269.1,322.8 L269.3,321.7 L269.5,320.6 L269.7,319.4 L270.0,318.3 L270.2,317.2 L270.4,316.0 L270.6,314.9 L270.8,313.7 L271.1,312.6 L271.3,311.5 L271.5,310.3 L271.7,309.2 L271.9,308.0 L272.2,306.9 L272.4,305.8 L272.6,304.6 L272.8,303.5 L273.1,302.3 L273.3,301.2 L273.5,300.1 L273.7,298.9 L274.0,297.8 L274.2,296.7 L274.4,295.6 L274.7,294.4 L274.9,293.3 L275.2,292.2 L275.4,291.1 L275.7,290.0 L275.9,288.9 L276.2,287.8 L276.4,286.6 L276.7,285.5 L277.0,284.5 L277.3,283.4 L277.5,282.3 L277.8,281.2 L278.1,280.1 L278.4,279.0 L278.7,278.0 L279.0,276.9 L279.3,275.8 L279.6,274.8 L280.0,273.7 L280.3,272.6 L280.6,271.5 L280.9,270.4 L281.2,269.3 L281.5,268.2 L281.9,267.0 L282.2,265.8 L282.5,264.6 L282.8,263.4 L283.1,262.2 L283.5,261.0 L283.9,259.8 L284.4,258.7 L285.0,257.7 L285.7,256.8 L286.5,256.0 L287.4,255.3 L288.4,254.9 L289.5,254.7 L290.5,254.7 L291.5,255.0 L292.5,255.6 L293.3,256.3 L294.1,257.2 L294.8,258.1 L295.5,259.2 L296.2,260.2 L296.8,261.3 L297.4,262.4 L298.0,263.4 L298.5,264.5 L299.0,265.6 L299.5,266.6 L300.0,267.7 L300.5,268.7 L300.9,269.8 L301.3,270.8 L301.8,271.9 L302.2,272.9 L302.6,274.0 L302.9,275.0 L303.3,276.1 L303.7,277.2 L304.0,278.2 L304.4,279.3 L304.8,280.3 L305.1,281.4 L305.5,282.5 L305.8,283.5 L306.2,284.6 L306.5,285.7 L306.9,286.8 L307.3,287.9 L307.6,288.9 L308.0,290.0 L308.4,291.1 L308.7,292.2 L309.1,293.3 L309.5,294.4 L309.9,295.5 L310.3,296.6 L310.7,297.7 L311.0,298.8 L311.4,299.8 L311.8,300.9 L312.2,302.0 L312.6,303.1 L313.0,304.2 L313.4,305.3 L313.8,306.4 L314.2,307.5 L314.6,308.6 L315.0,309.7 L315.5,310.7 L315.9,311.8 L316.3,312.9 L316.7,314.0 L317.1,315.1 L317.6,316.1 L318.0,317.2 L318.4,318.3 L318.9,319.3 L319.3,320.4 L319.7,321.5 L320.2,322.5 L320.6,323.6 L321.1,324.6 L321.5,325.7 L322.0,326.7 L322.5,327.8 L322.9,328.8 L323.4,329.9 L323.9,330.9 L324.3,331.9 L324.8,333.0 L325.3,334.0 L325.8,335.1 L326.3,336.1 L326.8,337.1 L327.2,338.2 L327.7,339.2 L328.2,340.2 L328.8,341.3 L329.3,342.3 L329.8,343.3 L330.3,344.4 L330.8,345.4 L331.3,346.4 L331.8,347.4 L332.3,348.5 L332.9,349.5 L333.4,350.5 L333.9,351.5 L334.4,352.6 L335.0,353.6 L335.5,354.6 L336.0,355.6 L336.6,356.7 L337.1,357.7 L337.6,358.7 L338.2,359.7 L338.7,360.8 L339.2,361.8 L339.8,362.8 L340.3,363.8 L340.8,364.8 L341.4,365.9 L341.9,366.9 L342.4,367.9 L343.0,368.9 L343.5,370.0 L344.0,371.0 L344.5,372.0 L345.1,373.0 L345.6,374.1 L346.1,375.1 L346.6,376.1 L347.2,377.1 L347.7,378.2 L348.2,379.2 L348.7,380.2 L349.2,381.2 L349.8,382.3 L350.3,383.3 L350.8,384.3 L351.3,385.3 L351.8,386.4 L352.3,387.4 L352.8,388.4 L353.4,389.4 L353.9,390.5 L354.4,391.5 L354.9,392.5 L355.4,393.5 L356.0,394.5 L356.5,395.6 L357.0,396.6 L357.6,397.6 L358.1,398.6 L358.7,399.6 L359.2,400.6 L359.8,401.6 L360.4,402.6 L360.9,403.6 L361.5,404.6 L362.1,405.6 L362.7,406.5 L363.3,407.5 L363.9,408.5 L364.5,409.5 L365.2,410.4 L365.8,411.4 L366.4,412.4 L367.1,413.3 L367.8,414.3 L368.4,415.2 L369.1,416.1 L369.8,417.1 L370.5,418.0 L371.3,418.9 L372.0,419.8 L372.8,420.6 L373.5,421.5 L374.3,422.3 L375.1,423.2 L376.0,424.0 L376.8,424.7 L377.7,425.5 L378.6,426.2 L379.5,426.9 L380.4,427.5 L381.4,428.1 L382.4,428.7 L383.4,429.3 L384.4,429.8 L385.4,430.3 L386.5,430.8 L387.5,431.3 L388.6,431.7 L389.7,432.1 L390.8,432.4 L391.9,432.8 L393.0,433.1 L394.1,433.4 L395.2,433.7 L396.3,433.9 L397.5,434.1 L398.6,434.4 L399.7,434.6 L400.9,434.7 L402.0,434.9 L403.1,435.1 L404.3,435.2 L405.4,435.3 L406.6,435.4 L407.7,435.5 L408.9,435.6 L410.0,435.7 L411.2,435.8 L412.3,435.9 L413.5,436.0 L414.6,436.0 L415.8,436.1 L416.9,436.2 L418.1,436.2 L419.2,436.3 L420.4,436.4 L421.5,436.4 L422.7,436.5 L423.8,436.5 L425.0,436.5 L426.1,436.6 L427.2,436.6 L428.4,436.7 L429.5,436.7 L430.7,436.7 L431.8,436.8 L433.0,436.8 L434.1,436.8 L435.3,436.9 L436.4,436.9 L437.6,436.9 L438.7,437.0 L439.9,437.0 L441.0,437.0 L442.2,437.1 L443.3,437.1 L444.5,437.1 L445.6,437.2 L446.8,437.2 L447.9,437.2 L449.1,437.3 L450.2,437.3 L451.4,437.3 L452.5,437.3 L453.7,437.4 L454.8,437.4 L456.0,437.4 L457.1,437.4 L458.3,437.5 L459.4,437.5 L460.6,437.5 L461.7,437.6 L462.9,437.6 L464.0,437.6 L465.2,437.6 L466.3,437.6 L467.5,437.7 L468.6,437.7 L469.8,437.7 L470.9,437.7 L472.1,437.7 L473.2,437.8 L474.4,437.8 L475.5,437.8 L476.7,437.8 L477.8,437.8 L479.0,437.8 L480.1,437.8 L481.3,437.8 L482.4,437.9 L483.6,437.9 L484.7,437.9 L485.9,437.9 L487.0,437.9 L488.2,437.9" stroke="#ff0000" stroke-width="2.2"/>
<path d="M124.2,439.4 L125.1,439.4 L126.1,439.4 L127.0,439.4 L127.9,439.4 L128.9,439.4 L129.8,439.4 L130.7,439.4 L131.7,439.4 L132.6,439.4 L133.5,439.3 L134.5,439.3 L135.4,439.3 L136.3,439.3 L137.3,439.3 L138.2,439.3 L139.1,439.3 L140.1,439.3 L141.0,439.2 L141.9,439.2 L142.9,439.2 L143.8,439.2 L144.7,439.2 L145.7,439.1 L146.6,439.1 L147.5,439.1 L148.5,439.1 L149.4,439.0 L150.3,439.0 L151.3,439.0 L152.2,439.0 L153.1,438.9 L154.1,438.9 L155.0,438.9 L155.9,438.8 L156.8,438.8 L157.8,438.8 L158.7,438.7 L159.6,438.7 L160.6,438.7 L161.5,438.6 L162.4,438.6 L163.4,438.5 L164.3,438.5 L165.2,438.5 L166.2,438.4 L167.1,438.4 L168.0,438.3 L169.0,438.3 L169.9,438.3 L170.8,438.2 L171.8,438.2 L172.7,438.1 L173.6,438.1 L174.6,438.0 L175.5,438.0 L176.4,437.9 L177.4,437.9 L178.3,437.8 L179.2,437.8 L180.2,437.7 L181.1,437.7 L182.0,437.6 L183.0,437.6 L183.9,437.5 L184.8,437.4 L185.8,437.4 L186.7,437.3 L187.6,437.2 L188.5,437.1 L189.5,437.1 L190.4,437.0 L191.3,436.9 L192.3,436.8 L193.2,436.7 L194.1,436.6 L195.0,436.5 L196.0,436.3 L196.9,436.2 L197.8,436.1 L198.7,435.9 L199.6,435.8 L200.6,435.6 L201.5,435.5 L202.4,435.3 L203.3,435.1 L204.2,434.9 L205.1,434.8 L206.1,434.6 L207.0,434.4 L207.9,434.2 L208.8,434.0 L209.7,433.8 L210.6,433.5 L211.5,433.3 L212.4,433.1 L213.3,432.9 L214.2,432.7 L215.2,432.5 L216.1,432.3 L217.0,432.0 L217.9,431.8 L218.8,431.6 L219.7,431.4 L220.6,431.2 L221.5,431.0 L222.4,430.8 L223.3,430.6 L224.2,430.4 L225.1,430.2 L226.1,430.0 L227.0,429.8 L227.9,429.6 L228.8,429.4 L229.7,429.2 L230.6,429.0 L231.5,428.8 L232.5,428.7 L233.4,428.5 L234.3,428.3 L235.2,428.1 L236.1,427.9 L237.0,427.6 L237.9,427.3 L238.8,427.0 L239.7,426.7 L240.5,426.3 L241.3,425.9 L242.1,425.5 L242.9,425.0 L243.7,424.5 L244.4,423.9 L245.2,423.3 L245.9,422.7 L246.6,422.1 L247.2,421.5 L247.9,420.8 L248.5,420.1 L249.2,419.4 L249.8,418.7 L250.4,417.9 L250.9,417.2 L251.5,416.4 L252.0,415.7 L252.6,414.9 L253.1,414.1 L253.6,413.3 L254.0,412.5 L254.5,411.7 L255.0,410.9 L255.4,410.1 L255.9,409.3 L256.3,408.4 L256.7,407.6 L257.1,406.8 L257.5,405.9 L257.9,405.1 L258.3,404.2 L258.7,403.4 L259.0,402.5 L259.4,401.6 L259.7,400.8 L260.1,399.9 L260.4,399.0 L260.8,398.2 L261.1,397.3 L261.4,396.4 L261.8,395.5 L262.1,394.6 L262.4,393.8 L262.7,392.9 L263.0,392.0 L263.4,391.1 L263.7,390.3 L264.0,389.4 L264.3,388.5 L264.6,387.6 L264.9,386.7 L265.2,385.9 L265.5,385.0 L265.8,384.1 L266.1,383.2 L266.5,382.3 L266.8,381.5 L267.1,380.6 L267.4,379.7 L267.7,378.8 L268.0,378.0 L268.3,377.1 L268.6,376.2 L268.9,375.3 L269.2,374.4 L269.5,373.6 L269.8,372.7 L270.1,371.8 L270.4,370.9 L270.7,370.0 L271.0,369.2 L271.3,368.3 L271.6,367.4 L271.9,366.5 L272.2,365.6 L272.5,364.8 L272.8,363.9 L273.1,363.0 L273.4,362.1 L273.7,361.2 L274.0,360.4 L274.3,359.5 L274.6,358.6 L275.0,357.7 L275.3,356.8 L275.6,356.0 L275.9,355.1 L276.2,354.2 L276.5,353.3 L276.8,352.5 L277.1,351.6 L277.4,350.7 L277.7,349.8 L278.0,348.9 L278.3,348.0 L278.6,347.2 L278.9,346.3 L279.3,345.4 L279.6,344.5 L279.9,343.6 L280.2,342.8 L280.5,341.9 L280.8,341.0 L281.2,340.1 L281.5,339.3 L281.8,338.4 L282.2,337.5 L282.6,336.7 L283.0,335.8 L283.4,335.0 L283.8,334.1 L284.2,333.3 L284.7,332.4 L285.1,331.6 L285.6,330.8 L286.2,330.0 L286.7,329.2 L287.3,328.4 L287.9,327.7 L288.5,327.0 L289.2,326.3 L289.9,325.7 L290.7,325.2 L291.4,324.8 L292.3,324.4 L293.1,324.1 L294.0,323.9 L294.9,323.9 L295.8,323.9 L296.8,324.0 L297.7,324.1 L298.6,324.4 L299.4,324.7 L300.3,325.2 L301.1,325.6 L301.9,326.2 L302.6,326.7 L303.3,327.4 L304.0,328.0 L304.7,328.7 L305.3,329.4 L306.0,330.1 L306.6,330.8 L307.2,331.5 L307.8,332.2 L308.3,333.0 L308.9,333.7 L309.4,334.5 L310.0,335.2 L310.5,336.0 L311.0,336.8 L311.6,337.5 L312.1,338.3 L312.6,339.1 L313.1,339.9 L313.6,340.7 L314.0,341.5 L314.5,342.2 L315.0,343.0 L315.5,343.8 L316.0,344.6 L316.5,345.4 L317.0,346.2 L317.5,347.0 L318.0,347.8 L318.5,348.6 L319.0,349.3 L319.5,350.1 L320.0,350.9 L320.5,351.7 L321.0,352.5 L321.6,353.2 L322.1,354.0 L322.6,354.8 L323.1,355.6 L323.7,356.3 L324.2,357.1 L324.7,357.9 L325.3,358.6 L325.8,359.4 L326.3,360.2 L326.9,360.9 L327.4,361.7 L327.9,362.5 L328.5,363.2 L329.0,364.0 L329.5,364.8 L330.1,365.5 L330.6,366.3 L331.1,367.1 L331.7,367.8 L332.2,368.6 L332.8,369.3 L333.3,370.1 L333.8,370.9 L334.4,371.6 L334.9,372.4 L335.4,373.2 L336.0,373.9 L336.5,374.7 L337.0,375.5 L337.5,376.2 L338.1,377.0 L338.6,377.8 L339.1,378.5 L339.6,379.3 L340.2,380.1 L340.7,380.9 L341.2,381.6 L341.7,382.4 L342.2,383.2 L342.8,384.0 L343.3,384.7 L343.8,385.5 L344.3,386.3 L344.8,387.1 L345.3,387.9 L345.8,388.7 L346.3,389.5 L346.8,390.3 L347.3,391.1 L347.8,391.8 L348.3,392.6 L348.8,393.4 L349.2,394.2 L349.7,395.0 L350.2,395.8 L350.7,396.6 L351.2,397.4 L351.7,398.2 L352.2,399.0 L352.7,399.8 L353.2,400.6 L353.7,401.3 L354.3,402.1 L354.8,402.9 L355.3,403.7 L355.8,404.4 L356.4,405.2 L356.9,405.9 L357.4,406.7 L358.0,407.4 L358.6,408.2 L359.1,408.9 L359.7,409.6 L360.3,410.4 L360.9,411.1 L361.5,411.8 L362.1,412.5 L362.7,413.2 L363.2,413.9 L363.8,414.7 L364.4,415.4 L365.0,416.1 L365.6,416.9 L366.2,417.6 L366.8,418.4 L367.3,419.1 L367.9,419.8 L368.5,420.6 L369.1,421.3 L369.8,422.0 L370.4,422.7 L371.1,423.3 L371.7,424.0 L372.4,424.6 L373.1,425.2 L373.9,425.8 L374.6,426.4 L375.3,426.9 L376.1,427.5 L376.9,428.0 L377.6,428.5 L378.4,429.0 L379.2,429.4 L380.1,429.9 L380.9,430.3 L381.7,430.7 L382.6,431.1 L383.4,431.5 L384.3,431.9 L385.1,432.2 L386.0,432.6 L386.9,432.9 L387.8,433.2 L388.7,433.5 L389.6,433.7 L390.5,434.0 L391.4,434.2 L392.3,434.4 L393.2,434.6 L394.1,434.8 L395.0,435.0 L395.9,435.2 L396.8,435.3 L397.8,435.5 L398.7,435.6 L399.6,435.7 L400.5,435.8 L401.5,435.9 L402.4,436.0 L403.3,436.1 L404.2,436.2 L405.2,436.2 L406.1,436.3 L407.0,436.3 L408.0,436.4 L408.9,436.4 L409.8,436.5 L410.8,436.5 L411.7,436.5 L412.6,436.6 L413.6,436.6 L414.5,436.6 L415.4,436.7 L416.4,436.7 L417.3,436.7 L418.3,436.8 L419.2,436.8 L420.1,436.8 L421.1,436.9 L422.0,436.9 L422.9,436.9 L423.9,437.0 L424.8,437.0 L425.7,437.0 L426.6,437.1 L427.6,437.1 L428.5,437.2 L429.4,437.2 L430.4,437.2 L431.3,437.3 L432.2,437.3 L433.2,437.3 L434.1,437.4 L435.0,437.4 L436.0,437.5 L436.9,437.5 L437.8,437.5 L438.8,437.6 L439.7,437.6 L440.6,437.6 L441.5,437.7 L442.5,437.7 L443.4,437.7 L444.3,437.8 L445.3,437.8 L446.2,437.8 L447.1,437.8 L448.1,437.9 L449.0,437.9 L449.9,437.9 L450.9,438.0 L451.8,438.0 L452.7,438.0 L453.7,438.0 L454.6,438.1 L455.5,438.1 L456.5,438.1 L457.4,438.1 L458.3,438.2 L459.3,438.2 L460.2,438.2 L461.1,438.2 L462.1,438.2 L463.0,438.3 L463.9,438.3 L464.9,438.3 L465.8,438.3 L466.7,438.3 L467.7,438.3 L468.6,438.4 L469.5,438.4 L470.5,438.4 L471.4,438.4 L472.3,438.4 L473.3,438.4 L474.2,438.5 L475.1,438.5 L476.1,438.5 L477.0,438.5 L477.9,438.5 L478.9,438.5 L479.8,438.5 L480.7,438.5 L481.7,438.5 L482.6,438.6 L483.5,438.6 L484.5,438.6 L485.4,438.6 L486.3,438.6 L487.3,438.6 L488.2,438.6" stroke="#0000ff" stroke-width="1.7" stroke-dasharray="6.9 1.9"/>
<path d="M124.2,439.5 L125.0,439.5 L125.8,439.5 L126.7,439.5 L127.5,439.5 L128.3,439.5 L129.1,439.5 L129.9,439.5 L130.7,439.5 L131.6,439.5 L132.4,439.5 L133.2,439.4 L134.0,439.4 L134.8,439.4 L135.7,439.4 L136.5,439.4 L137.3,439.4 L138.1,439.4 L138.9,439.4 L139.8,439.4 L140.6,439.4 L141.4,439.4 L142.2,439.4 L143.0,439.4 L143.8,439.4 L144.7,439.3 L145.5,439.3 L146.3,439.3 L147.1,439.3 L147.9,439.3 L148.8,439.3 L149.6,439.3 L150.4,439.3 L151.2,439.3 L152.0,439.2 L152.9,439.2 L153.7,439.2 L154.5,439.2 L155.3,439.2 L156.1,439.2 L156.9,439.2 L157.8,439.1 L158.6,439.1 L159.4,439.1 L160.2,439.1 L161.0,439.1 L161.9,439.0 L162.7,439.0 L163.5,439.0 L164.3,439.0 L165.1,438.9 L166.0,438.9 L166.8,438.9 L167.6,438.9 L168.4,438.8 L169.2,438.8 L170.0,438.8 L170.9,438.7 L171.7,438.7 L172.5,438.7 L173.3,438.6 L174.1,438.6 L174.9,438.5 L175.8,438.5 L176.6,438.5 L177.4,438.4 L178.2,438.4 L179.0,438.3 L179.9,438.3 L180.7,438.2 L181.5,438.2 L182.3,438.1 L183.1,438.1 L183.9,438.0 L184.8,437.9 L185.6,437.9 L186.4,437.8 L187.2,437.8 L188.0,437.7 L188.8,437.6 L189.7,437.6 L190.5,437.5 L191.3,437.4 L192.1,437.3 L192.9,437.3 L193.7,437.2 L194.5,437.1 L195.4,437.0 L196.2,436.9 L197.0,436.8 L197.8,436.8 L198.6,436.7 L199.4,436.6 L200.2,436.5 L201.1,436.4 L201.9,436.3 L202.7,436.3 L203.5,436.2 L204.3,436.1 L205.1,436.1 L206.0,436.0 L206.8,436.0 L207.6,435.9 L208.4,435.9 L209.2,435.8 L210.0,435.7 L210.9,435.6 L211.7,435.5 L212.5,435.4 L213.3,435.3 L214.1,435.2 L214.9,435.1 L215.7,435.0 L216.5,434.8 L217.3,434.7 L218.1,434.6 L218.9,434.4 L219.7,434.2 L220.5,434.1 L221.3,433.9 L222.1,433.7 L222.9,433.6 L223.7,433.4 L224.5,433.2 L225.3,433.0 L226.1,432.8 L226.9,432.5 L227.7,432.3 L228.5,432.1 L229.3,431.8 L230.1,431.6 L230.8,431.3 L231.6,431.0 L232.4,430.7 L233.1,430.4 L233.9,430.1 L234.6,429.7 L235.3,429.4 L236.1,429.0 L236.8,428.6 L237.5,428.2 L238.2,427.8 L238.9,427.3 L239.5,426.9 L240.2,426.4 L240.9,425.9 L241.5,425.4 L242.2,424.9 L242.8,424.4 L243.4,423.9 L244.0,423.3 L244.6,422.8 L245.2,422.2 L245.8,421.6 L246.4,421.1 L246.9,420.5 L247.5,419.9 L248.1,419.2 L248.6,418.6 L249.1,418.0 L249.6,417.4 L250.2,416.7 L250.7,416.1 L251.2,415.4 L251.6,414.8 L252.1,414.1 L252.6,413.5 L253.1,412.8 L253.5,412.1 L254.0,411.4 L254.4,410.7 L254.9,410.0 L255.3,409.3 L255.7,408.6 L256.2,407.9 L256.6,407.2 L257.0,406.5 L257.4,405.8 L257.8,405.1 L258.2,404.4 L258.6,403.7 L259.0,403.0 L259.4,402.2 L259.8,401.5 L260.2,400.8 L260.6,400.1 L261.0,399.3 L261.4,398.6 L261.8,397.9 L262.2,397.2 L262.6,396.5 L263.0,395.7 L263.4,395.0 L263.8,394.3 L264.2,393.6 L264.5,392.9 L264.9,392.2 L265.3,391.4 L265.7,390.7 L266.1,390.0 L266.6,389.3 L267.0,388.6 L267.4,387.9 L267.8,387.2 L268.2,386.6 L268.6,385.9 L269.1,385.2 L269.5,384.5 L269.9,383.8 L270.4,383.2 L270.8,382.5 L271.2,381.8 L271.7,381.1 L272.1,380.5 L272.6,379.8 L273.1,379.1 L273.5,378.5 L274.0,377.8 L274.5,377.1 L275.0,376.4 L275.4,375.7 L275.9,375.1 L276.4,374.4 L276.9,373.7 L277.4,373.0 L277.9,372.3 L278.5,371.7 L279.0,371.0 L279.6,370.4 L280.2,369.8 L280.8,369.3 L281.5,368.8 L282.2,368.4 L282.9,368.0 L283.7,367.7 L284.4,367.5 L285.2,367.4 L286.0,367.4 L286.7,367.5 L287.5,367.7 L288.3,367.9 L289.0,368.3 L289.7,368.7 L290.4,369.1 L291.0,369.6 L291.6,370.2 L292.2,370.8 L292.8,371.4 L293.3,372.1 L293.8,372.7 L294.3,373.4 L294.8,374.1 L295.3,374.8 L295.7,375.6 L296.2,376.3 L296.6,377.0 L297.1,377.7 L297.5,378.4 L297.9,379.1 L298.4,379.8 L298.8,380.5 L299.2,381.2 L299.6,381.9 L300.0,382.6 L300.4,383.3 L300.8,384.0 L301.2,384.7 L301.6,385.5 L302.0,386.2 L302.4,386.9 L302.8,387.6 L303.2,388.3 L303.6,389.0 L304.0,389.7 L304.4,390.4 L304.8,391.1 L305.2,391.8 L305.6,392.5 L306.0,393.2 L306.4,393.9 L306.9,394.6 L307.3,395.2 L307.7,395.9 L308.1,396.6 L308.6,397.3 L309.0,398.0 L309.4,398.7 L309.9,399.4 L310.3,400.1 L310.8,400.8 L311.3,401.4 L311.7,402.1 L312.2,402.8 L312.7,403.4 L313.2,404.1 L313.6,404.8 L314.1,405.4 L314.6,406.1 L315.1,406.7 L315.7,407.4 L316.2,408.0 L316.7,408.6 L317.3,409.3 L317.8,409.9 L318.3,410.5 L318.9,411.1 L319.5,411.7 L320.1,412.3 L320.6,412.9 L321.2,413.5 L321.8,414.0 L322.5,414.5 L323.1,415.1 L323.7,415.6 L324.4,416.0 L325.1,416.5 L325.7,416.9 L326.4,417.3 L327.2,417.7 L327.9,418.1 L328.6,418.4 L329.4,418.7 L330.1,419.0 L330.9,419.3 L331.7,419.6 L332.5,419.8 L333.2,420.1 L334.0,420.3 L334.8,420.6 L335.6,420.8 L336.4,421.1 L337.2,421.3 L338.0,421.6 L338.7,421.8 L339.5,422.1 L340.3,422.4 L341.0,422.7 L341.8,423.0 L342.6,423.3 L343.3,423.6 L344.1,423.9 L344.8,424.2 L345.6,424.5 L346.3,424.8 L347.1,425.1 L347.8,425.5 L348.6,425.8 L349.3,426.1 L350.1,426.4 L350.8,426.8 L351.6,427.1 L352.3,427.4 L353.1,427.8 L353.8,428.1 L354.6,428.4 L355.3,428.8 L356.1,429.1 L356.8,429.4 L357.6,429.7 L358.3,430.1 L359.1,430.4 L359.9,430.7 L360.6,431.0 L361.4,431.3 L362.1,431.6 L362.9,431.9 L363.7,432.2 L364.4,432.5 L365.2,432.8 L366.0,433.1 L366.7,433.3 L367.5,433.6 L368.3,433.9 L369.1,434.1 L369.8,434.4 L370.6,434.6 L371.4,434.8 L372.2,435.0 L373.0,435.2 L373.8,435.4 L374.6,435.6 L375.4,435.8 L376.2,436.0 L377.0,436.1 L377.8,436.3 L378.6,436.4 L379.4,436.6 L380.2,436.7 L381.0,436.8 L381.8,436.9 L382.6,437.1 L383.4,437.2 L384.3,437.3 L385.1,437.3 L385.9,437.4 L386.7,437.5 L387.5,437.6 L388.3,437.7 L389.2,437.7 L390.0,437.8 L390.8,437.8 L391.6,437.9 L392.4,438.0 L393.3,438.0 L394.1,438.0 L394.9,438.1 L395.7,438.1 L396.5,438.1 L397.3,438.2 L398.2,438.2 L399.0,438.2 L399.8,438.2 L400.6,438.3 L401.4,438.3 L402.2,438.3 L403.1,438.3 L403.9,438.3 L404.7,438.3 L405.5,438.3 L406.3,438.3 L407.1,438.3 L408.0,438.3 L408.8,438.3 L409.6,438.3 L410.4,438.3 L411.2,438.3 L412.1,438.3 L412.9,438.3 L413.7,438.3 L414.5,438.3 L415.3,438.3 L416.1,438.3 L417.0,438.3 L417.8,438.3 L418.6,438.3 L419.4,438.3 L420.2,438.4 L421.1,438.4 L421.9,438.4 L422.7,438.4 L423.5,438.4 L424.3,438.4 L425.2,438.4 L426.0,438.4 L426.8,438.4 L427.6,438.4 L428.4,438.4 L429.3,438.5 L430.1,438.5 L430.9,438.5 L431.7,438.5 L432.5,438.5 L433.3,438.5 L434.2,438.5 L435.0,438.5 L435.8,438.5 L436.6,438.6 L437.4,438.6 L438.3,438.6 L439.1,438.6 L439.9,438.6 L440.7,438.6 L441.5,438.6 L442.4,438.6 L443.2,438.6 L444.0,438.7 L444.8,438.7 L445.6,438.7 L446.4,438.7 L447.3,438.7 L448.1,438.7 L448.9,438.7 L449.7,438.7 L450.5,438.7 L451.4,438.7 L452.2,438.7 L453.0,438.7 L453.8,438.7 L454.6,438.7 L455.4,438.7 L456.3,438.7 L457.1,438.7 L457.9,438.7 L458.7,438.7 L459.5,438.7 L460.4,438.8 L461.2,438.8 L462.0,438.8 L462.8,438.8 L463.6,438.8 L464.5,438.8 L465.3,438.8 L466.1,438.8 L466.9,438.8 L467.7,438.8 L468.6,438.8 L469.4,438.8 L470.2,438.8 L471.0,438.8 L471.8,438.8 L472.6,438.8 L473.5,438.8 L474.3,438.8 L475.1,438.8 L475.9,438.8 L476.7,438.8 L477.6,438.8 L478.4,438.8 L479.2,438.8 L480.0,438.8 L480.8,438.8 L481.7,438.8 L482.5,438.8 L483.3,438.8 L484.1,438.8 L484.9,438.8 L485.7,438.8 L486.6,438.8 L487.4,438.8 L488.2,438.8" stroke="#00ff00" stroke-width="1.7" stroke-dasharray="7 1.9 2.7 1.6"/>
</g>
<!-- frame overlay (darkens curves running along the axes) -->
<path d="M124.2,0.15 H487.5 V439.95 H124.2 Z M124.2,233.95 H487.5" fill="none" stroke="#000" stroke-width="1.3" stroke-opacity="0.5"/>
<!-- ticks -->
<path d="M124.20,233.95 v-5.6 M142.37,233.95 v-2.9 M160.53,233.95 v-2.9 M178.69,233.95 v-2.9 M196.86,233.95 v-2.9 M215.02,233.95 v-5.6 M233.19,233.95 v-2.9 M251.36,233.95 v-2.9 M269.52,233.95 v-2.9 M287.69,233.95 v-2.9 M305.85,233.95 v-5.6 M324.01,233.95 v-2.9 M342.18,233.95 v-2.9 M360.34,233.95 v-2.9 M378.51,233.95 v-2.9 M396.67,233.95 v-5.6 M414.84,233.95 v-2.9 M433.00,233.95 v-2.9 M451.17,233.95 v-2.9 M469.33,233.95 v-2.9 M487.50,233.95 v-5.6 M124.20,439.95 v-5.6 M142.37,439.95 v-2.9 M160.53,439.95 v-2.9 M178.69,439.95 v-2.9 M196.86,439.95 v-2.9 M215.02,439.95 v-5.6 M233.19,439.95 v-2.9 M251.36,439.95 v-2.9 M269.52,439.95 v-2.9 M287.69,439.95 v-2.9 M305.85,439.95 v-5.6 M324.01,439.95 v-2.9 M342.18,439.95 v-2.9 M360.34,439.95 v-2.9 M378.51,439.95 v-2.9 M396.67,439.95 v-5.6 M414.84,439.95 v-2.9 M433.00,439.95 v-2.9 M451.17,439.95 v-2.9 M469.33,439.95 v-2.9 M487.50,439.95 v-5.6 M124.20,204.72 h2.8 M487.50,204.72 h-2.8 M124.20,175.50 h5.4 M487.50,175.50 h-5.4 M124.20,146.27 h2.8 M487.50,146.27 h-2.8 M124.20,117.05 h5.4 M487.50,117.05 h-5.4 M124.20,87.82 h2.8 M487.50,87.82 h-2.8 M124.20,58.60 h5.4 M487.50,58.60 h-5.4 M124.20,29.38 h2.8 M487.50,29.38 h-2.8 M124.20,414.20 h2.8 M487.50,414.20 h-2.8 M124.20,388.45 h5.4 M487.50,388.45 h-5.4 M124.20,362.70 h2.8 M487.50,362.70 h-2.8 M124.20,336.95 h5.4 M487.50,336.95 h-5.4 M124.20,311.20 h2.8 M487.50,311.20 h-2.8 M124.20,285.45 h5.4 M487.50,285.45 h-5.4 M124.20,259.70 h2.8 M487.50,259.70 h-2.8" fill="none" stroke="#000" stroke-width="1.15"/>
<!-- legend -->
<g font-size="18.45" text-anchor="end">
<text x="425.7" y="23.8">tot</text>
<text x="425.7" y="44.0">|K|=1 mode</text>
<text x="425.7" y="64.1">K=0 mode</text>
</g>
<g fill="none">
<path d="M437,17.7 H470.8" stroke="#ff0000" stroke-width="2.25" stroke-linecap="round"/>
<path d="M436.1,38.3 H470" stroke="#0000ff" stroke-width="1.8" stroke-dasharray="6.9 1.9"/>
<path d="M436.1,58.6 H470" stroke="#00ff00" stroke-width="1.8" stroke-dasharray="7.1 1.8 2.8 1.5"/>
</g>
<!-- panel labels -->
<g class="lbl">
<text x="397.02" y="144.1" font-size="16.3" textLength="9.03" lengthAdjust="spacingAndGlyphs">β</text>
<text x="406.03" y="147.7" font-size="12.0" textLength="7.40" lengthAdjust="spacingAndGlyphs">2</text>
<text x="414.42" y="144.1" font-size="16.3" textLength="10.98" lengthAdjust="spacingAndGlyphs">=</text>
<text x="426.76" y="144.1" font-size="16.3" textLength="43.55" lengthAdjust="spacingAndGlyphs">0.048</text>
<text x="403.00" y="168.4" font-size="16.3" textLength="8.70" lengthAdjust="spacingAndGlyphs">γ</text>
<text x="411.99" y="168.4" font-size="16.3" textLength="11.33" lengthAdjust="spacingAndGlyphs">=</text>
<text x="423.88" y="168.4" font-size="16.3" textLength="33.85" lengthAdjust="spacingAndGlyphs">60.0</text>
<text x="457.94" y="169.2" font-size="19.0" textLength="8.22" lengthAdjust="spacingAndGlyphs">°</text>
<text x="397.02" y="278.1" font-size="16.3" textLength="9.03" lengthAdjust="spacingAndGlyphs">β</text>
<text x="406.03" y="281.7" font-size="12.0" textLength="7.40" lengthAdjust="spacingAndGlyphs">2</text>
<text x="414.09" y="278.1" font-size="16.3" textLength="11.33" lengthAdjust="spacingAndGlyphs">=</text>
<text x="426.75" y="278.1" font-size="16.3" textLength="43.76" lengthAdjust="spacingAndGlyphs">0.063</text>
<text x="407.70" y="301.1" font-size="16.3" textLength="8.30" lengthAdjust="spacingAndGlyphs">γ</text>
<text x="416.58" y="301.1" font-size="16.3" textLength="11.45" lengthAdjust="spacingAndGlyphs">=</text>
<text x="428.90" y="301.1" font-size="16.3" textLength="22.30" lengthAdjust="spacingAndGlyphs">0.0</text>
<text x="452.89" y="301.9" font-size="19.0" textLength="8.62" lengthAdjust="spacingAndGlyphs">°</text>
<text x="140.98" y="180.3" font-size="17.5" stroke="#000" stroke-width="0.25">(</text>
<text x="148.06" y="181.8" font-size="19.8" stroke="#000" stroke-width="0.25" textLength="9.63" lengthAdjust="spacingAndGlyphs">a</text>
<text x="160.48" y="180.3" font-size="17.5" stroke="#000" stroke-width="0.25">)</text>
<text x="140.98" y="393.7" font-size="17.5" stroke="#000" stroke-width="0.25">(</text>
<text x="148.64" y="394.9" font-size="19.7" stroke="#000" stroke-width="0.25" textLength="11.17" lengthAdjust="spacingAndGlyphs">b</text>
<text x="161.08" y="393.7" font-size="17.5" stroke="#000" stroke-width="0.25">)</text>
<text x="141.22" y="33.1" font-size="17.0" font-weight="bold" stroke="#000" stroke-width="0.3" textLength="31.55" lengthAdjust="spacingAndGlyphs">146</text>
<text x="173.55" y="36.5" font-size="12.8" font-weight="bold" stroke="#000" stroke-width="0.3" textLength="20.14" lengthAdjust="spacingAndGlyphs">Sm</text>
<text x="141.22" y="263.9" font-size="17.0" font-weight="bold" stroke="#000" stroke-width="0.3" textLength="31.55" lengthAdjust="spacingAndGlyphs">146</text>
<text x="173.55" y="267.4" font-size="12.8" font-weight="bold" stroke="#000" stroke-width="0.3" textLength="20.14" lengthAdjust="spacingAndGlyphs">Sm</text>
<text x="273.67" y="460.1" font-size="13.6" font-weight="bold" stroke="#000" stroke-width="0.3" textLength="50.67" lengthAdjust="spacingAndGlyphs">E(MeV)</text>
</g>
<!-- axis labels -->
<text transform="translate(111,362.6) rotate(-90)" font-size="20" textLength="248.5" lengthAdjust="spacingAndGlyphs">Dipoles strength(arb.units)</text>
<text x="126.1" y="451.4" text-anchor="middle" font-size="10.5">5</text>
<text x="216.6" y="451.4" text-anchor="middle" font-size="10.5">10</text>
<text x="307.9" y="451.4" text-anchor="middle" font-size="10.5">15</text>
<text x="397.9" y="451.4" text-anchor="middle" font-size="10.5">20</text>
<text x="489.4" y="451.4" text-anchor="middle" font-size="10.5">25</text>
</svg>
</body></html>
